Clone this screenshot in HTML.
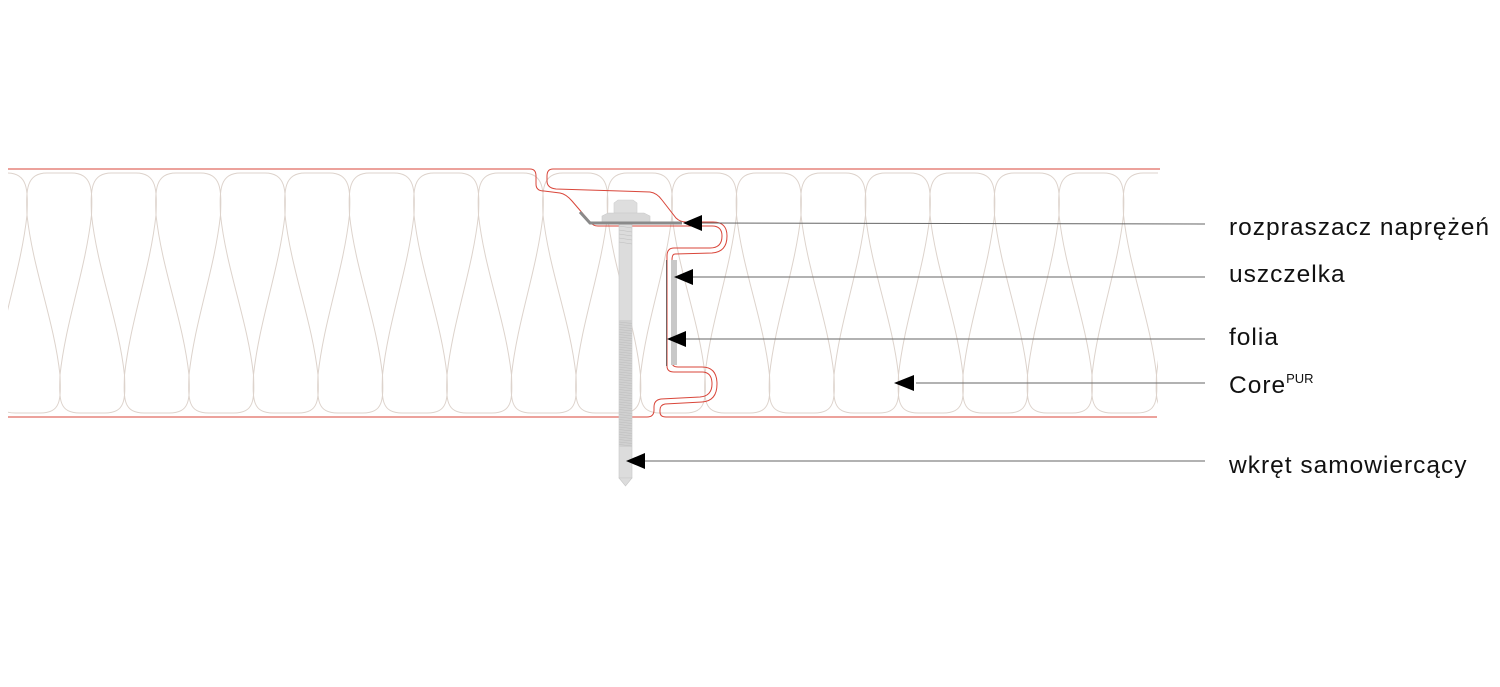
<!DOCTYPE html>
<html><head><meta charset="utf-8"><style>
html,body{margin:0;padding:0;background:#fff;width:1500px;height:687px;overflow:hidden}
svg{position:absolute;left:0;top:0}
.lbl{position:absolute;left:1229px;font-family:"Liberation Sans",sans-serif;font-size:24.5px;letter-spacing:1px;color:#111;white-space:nowrap;line-height:1}
sup{font-size:13px;letter-spacing:0;vertical-align:0;position:relative;top:-10px}
</style></head><body>
<svg id="s" width="1500" height="687" viewBox="0 0 1500 687" xmlns="http://www.w3.org/2000/svg">
<g id="ins" fill="none" stroke="#ddd3cc" stroke-width="1"></g>
<path d="M8,169 H530 Q536,169 536,176 V184 Q536,191 544,191 L560,193 Q566,194 572,201 L590,222 Q593,226 598,226 H712 Q722,226 722,236 Q722,248 710,248 H674 Q667,248 667,256 V366 Q667,372 674,372 H702 Q712,372 712,384 Q712,396 700,397 L661,399 Q654,400 654,407 V410 Q654,417 647,417 H8" fill="none" stroke="#d9463a" stroke-width="1"/>
<path d="M1160,169 H553 Q547,169 547,176 V181 Q547,188 556,189 L650,192 Q657,193 662,200 L676,218 Q680,222 686,222 H713 Q727,222 727,236 Q727,252 712,253 L675,254 Q672,254 672,260 V362 Q672,367 678,367 H702 Q717,367 717,384 Q717,401 702,402 L665,404 Q660,405 660,410 V412 Q660,417 666,417 H1157" fill="none" stroke="#d9463a" stroke-width="1"/>
<rect x="619" y="222" width="13" height="256" fill="#dcdcdc" stroke="#c8c8c8" stroke-width="0.6"/>
<path d="M619,478 L625.5,486 L632,478 Z" fill="#dcdcdc" stroke="#c8c8c8" stroke-width="0.6"/>
<rect x="619" y="320" width="13" height="127" fill="#d0d0d0"/>
<g stroke="#bdbdbd" stroke-width="0.6" id="thr"></g>
<path d="M614,213 V203 L618,200 H633 L637,203 V213 Z" fill="#dedede" stroke="#cfcfcf" stroke-width="0.6"/>
<path d="M602,222 V216 L608,213 H644 L650,216 V222 Z" fill="#d8d8d8" stroke="#cacaca" stroke-width="0.6"/>
<path d="M580,212 L590,223 H682" fill="none" stroke="#8a8a8a" stroke-width="3"/>
<rect x="671" y="260" width="6" height="105" fill="#c8c8c8"/>
<line x1="666.5" y1="260" x2="666.5" y2="366" stroke="#555" stroke-width="0.8"/>
<g stroke="#666" stroke-width="1">
<line x1="700" y1="223" x2="1205" y2="224"/>
<line x1="692" y1="277" x2="1205" y2="277"/>
<line x1="685" y1="339" x2="1205" y2="339"/>
<line x1="916" y1="383" x2="1205" y2="383"/>
<line x1="644" y1="461" x2="1205" y2="461"/>
</g>
<g fill="#000">
<path d="M683,223 L702,215 L702,231 Z"/>
<path d="M674,277 L693,269 L693,285 Z"/>
<path d="M667,339 L686,331 L686,347 Z"/>
<path d="M894,383 L914,375 L914,391 Z"/>
<path d="M626,461 L645,453 L645,469 Z"/>
</g>
</svg>
<div class="lbl" style="top:216px">rozpraszacz naprężeń</div>
<div class="lbl" style="top:263px">uszczelka</div>
<div class="lbl" style="top:326px">folia</div>
<div class="lbl" style="top:374px">Core<sup>PUR</sup></div>
<div class="lbl" style="top:454px">wkręt samowiercący</div>
<script>
var g=document.getElementById('ins'),d='',P=64.5;
for(var k=-1;k<19;k++){
 var t=27+P*k,b=60+P*k,e=t+P,f=b+P;
 d+='M'+t+',215 C'+(t-1)+',190 '+(t-1)+',173 '+(t+20)+',173 H'+(e-20)+' C'+(e+1)+',173 '+(e+1)+',190 '+e+',215 ';
 d+='M'+b+',375 C'+(b-1)+',400 '+(b-1)+',413 '+(b+20)+',413 H'+(f-20)+' C'+(f+1)+',413 '+(f+1)+',400 '+f+',375 ';
 d+='M'+t+',215 C'+(t+6)+',270 '+(b-6)+',320 '+b+',375 ';
 d+='M'+t+',215 C'+(t-6)+',270 '+(b-P+6)+',320 '+(b-P)+',375 ';
}
var p=document.createElementNS('http://www.w3.org/2000/svg','path');p.setAttribute('d',d);g.appendChild(p);
var cp=document.createElementNS('http://www.w3.org/2000/svg','clipPath');cp.id='c';
cp.innerHTML='<rect x="8" y="169" width="1150" height="248"/>';
document.getElementById('s').appendChild(cp);g.setAttribute('clip-path','url(#c)');
var th=document.getElementById('thr'),s='';
for(var y=226;y<246;y+=4)s+='<line x1="619" y1="'+y+'" x2="632" y2="'+(y+2)+'"/>';
for(var y=322;y<446;y+=2.5)s+='<line x1="619" y1="'+y+'" x2="632" y2="'+(y+1.5)+'"/>';
th.innerHTML=s;
</script>
</body></html>
